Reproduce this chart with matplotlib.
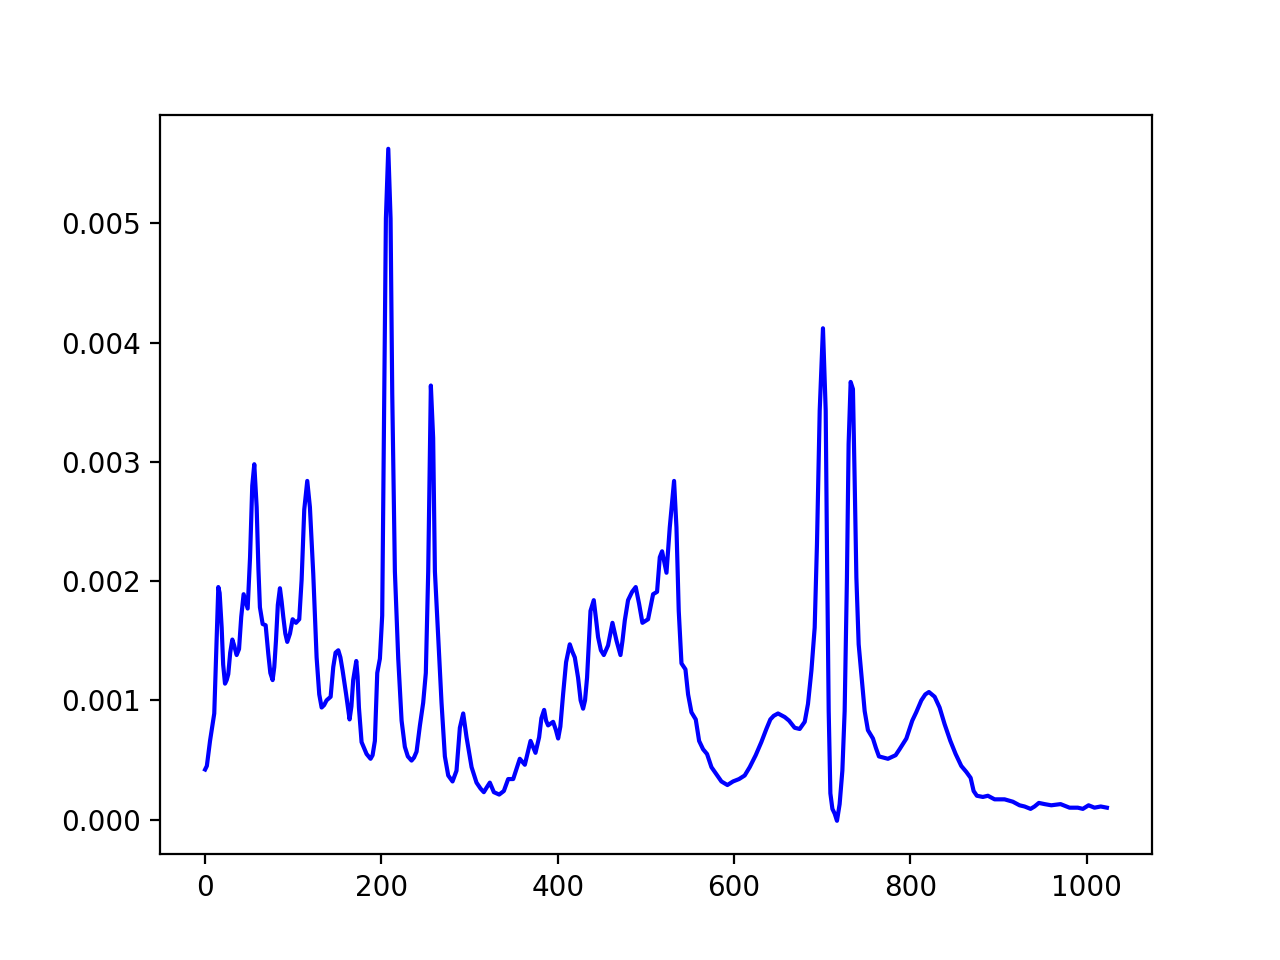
import matplotlib
matplotlib.use("Agg")
import matplotlib.pyplot as plt

# ----- Data -----
x_vals = [
    0, 2, 5.6, 10.4, 13, 15, 16.5, 18.8, 20.5, 22.6, 24.5, 26.3, 28.5, 30.9, 33,
    35.8, 38.5, 41, 43.7, 46, 48.3, 51, 53.5, 55.8, 58.5, 60.5, 62.2, 65.3, 68.7,
    71.7, 74, 76.6, 78.5, 80.4, 82.5, 84.9, 86.8, 88.7, 91, 93.2, 96.3, 99.3,
    103.1, 106.8, 109.5, 112.5, 115.9, 118.9, 122.7, 126.5, 129.5, 132.2, 135,
    137.8, 142.4, 145.4, 148, 151.1, 153.5, 156, 160, 163.9, 166, 168, 171.5,
    173, 174.5, 177.5, 183.2, 187.7, 190, 192.6, 195.3, 198.3, 200.9, 202.8,
    205.1, 207.8, 210.4, 212.3, 215.3, 219.1, 222.9, 226.6, 230, 234.2, 237,
    239.9, 243.7, 247.4, 250.4, 253.1, 256.1, 258.7, 260.7, 264.4, 268.2, 272,
    275.8, 280.7, 285.2, 289, 292.8, 296.6, 302.3, 307.9, 312.5, 316.2, 319.5,
    323, 327.6, 333.6, 338.9, 343.8, 349.5, 353, 357, 362.7, 366, 369.2, 374.8,
    378.9, 381.5, 384.6, 386.8, 389.1, 394.8, 398, 400.5, 403, 406.1, 409.5,
    413.7, 416.5, 419.4, 423.1, 426, 428.8, 431, 433.3, 437.2, 440.9, 443.5,
    445.8, 449, 452.3, 457.1, 462.1, 466.7, 471.2, 473.5, 476.1, 479.8, 484.4,
    488.5, 492.3, 496.1, 502.5, 508.2, 512.7, 515.8, 518.4, 523.4, 527.1, 532,
    534.7, 537.3, 540.4, 544.9, 547.9, 551.7, 556.6, 560.4, 564.9, 569.4, 574.4,
    580, 585.7, 592.5, 598.9, 605.7, 612.1, 617.8, 624.6, 631, 636.7, 641.2,
    645, 649.9, 657.5, 662.4, 668.8, 674.5, 680.2, 683.9, 687.8, 691.5, 694.1,
    697.2, 700.9, 704, 705.4, 707.4, 709.3, 711.6, 714.2, 716.8, 719.8, 722.9,
    725.5, 728.1, 730, 732.3, 734.9, 736.8, 738.8, 741.4, 744.4, 748.2, 751.9,
    757.6, 761, 764.4, 774.6, 783.3, 787.8, 795.5, 802.2, 806.7, 812.5, 817,
    821.1, 827.6, 833.2, 838.9, 845.4, 851.4, 857.8, 863.5, 868.4, 871.8, 875.5,
    882.3, 888, 895.6, 906.9, 916.3, 923.9, 929.6, 936.4, 940.9, 945.8, 952.3,
    959.9, 970.4, 980.6, 990, 995.7, 1002.2, 1008.9, 1016, 1023,
]

y_vals = [
    0.00042, 0.00045, 0.00066, 0.00089, 0.0015, 0.00195, 0.0019, 0.00161, 0.0013,
    0.00114, 0.00117, 0.00122, 0.0014, 0.00151, 0.00146, 0.00138, 0.00143,
    0.0017, 0.00189, 0.00183, 0.00177, 0.0022, 0.0028, 0.00298, 0.00262, 0.0021,
    0.00178, 0.00164, 0.00163, 0.00139, 0.00123, 0.00117, 0.00128, 0.0015,
    0.0018, 0.00194, 0.00183, 0.0017, 0.00156, 0.00149, 0.00156, 0.00168,
    0.00165, 0.00168, 0.00201, 0.0026, 0.00284, 0.00262, 0.00206, 0.00136,
    0.00105, 0.00094, 0.00096, 0.001, 0.00103, 0.00128, 0.0014, 0.00142,
    0.00136, 0.00125, 0.00105, 0.00084, 0.00095, 0.00117, 0.00133, 0.0012,
    0.00094, 0.00065, 0.00055, 0.00051, 0.00054, 0.00066, 0.00123, 0.00135,
    0.00171, 0.0032, 0.00504, 0.005625, 0.00504, 0.00357, 0.00208, 0.00135,
    0.00083, 0.00061, 0.00053, 0.000495, 0.00052, 0.00057, 0.00079, 0.00098,
    0.00123, 0.00208, 0.00364, 0.0032, 0.00208, 0.00153, 0.00098, 0.00053,
    0.00037, 0.00032, 0.00041, 0.00077, 0.00089, 0.00069, 0.00044, 0.00031,
    0.00026, 0.00023, 0.00027, 0.00031, 0.00023, 0.00021, 0.00024, 0.00034,
    0.00034, 0.00042, 0.00051, 0.00046, 0.00056, 0.00066, 0.00056, 0.00069,
    0.00085, 0.00092, 0.00083, 0.00079, 0.00082, 0.00075, 0.00068, 0.00078,
    0.00105, 0.00132, 0.00147, 0.00141, 0.00136, 0.00119, 0.001, 0.00093,
    0.001, 0.00119, 0.00175, 0.00184, 0.00168, 0.00153, 0.00142, 0.00138,
    0.00146, 0.00165, 0.0015, 0.00138, 0.0015, 0.00167, 0.00184, 0.00191,
    0.00195, 0.00181, 0.00165, 0.00168, 0.00189, 0.00191, 0.0022, 0.00225,
    0.00207, 0.00245, 0.00284, 0.00245, 0.00175, 0.00131, 0.00126, 0.00105,
    0.0009, 0.00084, 0.00066, 0.00059, 0.00055, 0.00044, 0.00038, 0.00032,
    0.00029, 0.00032, 0.00034, 0.00037, 0.00044, 0.00054, 0.00065, 0.00076,
    0.00084, 0.00087, 0.00089, 0.00086, 0.00083, 0.00077, 0.00076, 0.00082,
    0.00097, 0.00125, 0.00161, 0.00231, 0.00343, 0.00412, 0.00343, 0.00231,
    0.00091, 0.00022, 0.00009, 0.00005, -0.00001, 0.00013, 0.00041, 0.00091,
    0.00203, 0.00315, 0.00367, 0.00361, 0.00287, 0.00203, 0.00147, 0.00122,
    0.00091, 0.00075, 0.00068, 0.0006, 0.00053, 0.00051, 0.00054, 0.00059,
    0.00068, 0.00083, 0.0009, 0.001, 0.00105, 0.00107, 0.00103, 0.00094,
    0.0008, 0.00066, 0.00055, 0.00045, 0.0004, 0.00035, 0.00024, 0.0002,
    0.00019, 0.0002, 0.00017, 0.00017, 0.00015, 0.00012, 0.00011, 0.00009,
    0.00011, 0.00014, 0.00013, 0.00012, 0.00013, 0.0001, 0.0001, 0.00009,
    0.00012, 0.0001, 0.00011, 0.0001,
]

plt.figure(figsize=(6.4, 4.8))
plt.plot(x_vals, y_vals, color='blue')
plt.savefig("out.png", dpi=200)
plt.close()
